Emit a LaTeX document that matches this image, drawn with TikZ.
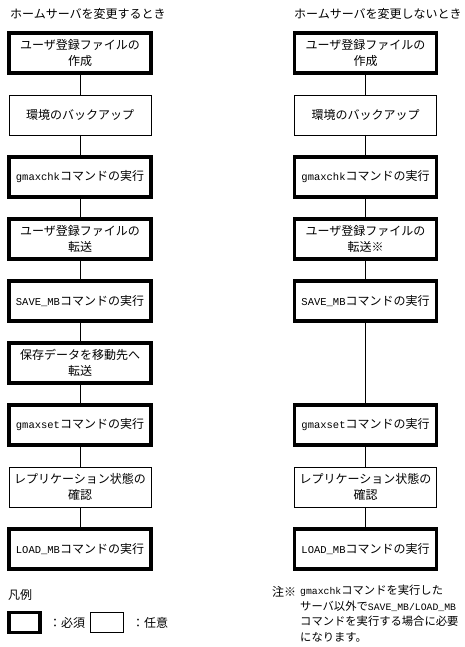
\documentclass[tikz,border=0pt]{standalone}
\usepackage{fontspec}
\setmainfont{Noto Sans CJK JP}
\setmonofont{Liberation Mono}
\usetikzlibrary{positioning}

\newcommand{\cmdname}[1]{{\ttfamily\fontsize{10.5}{15.5}\selectfont #1}}
\newcommand{\notecmd}[1]{{\ttfamily\fontsize{9.8}{15.5}\selectfont #1}}

\begin{document}
\begin{tikzpicture}[
    x=1pt, y=1pt,
    node distance=22pt,
    font=\fontsize{12}{15.5}\selectfont,
    base/.style={rectangle, draw, outer sep=0pt, inner sep=2pt, minimum width=142pt, minimum height=40pt, align=center},
    req/.style={base, line width=3.5pt},
    opt/.style={base, line width=0.8pt},
    link/.style={line width=0.8pt},
    title/.style={anchor=west, inner sep=0pt}
]
    \useasboundingbox (0,0) rectangle (465,-647);

    % Titles
    \node[title] (tleft) at (10,-14) {ホームサーバを変更するとき};
    \node[title] (tright) at (294,-14) {ホームサーバを変更しないとき};

    % Left column
    \node[req] (a1) at (80,-53) {ユーザ登録ファイルの\\作成};
    \node[opt, below=of a1] (a2) {環境のバックアップ};
    \node[req, below=of a2] (a3) {\cmdname{gmaxchk}コマンドの実行};
    \node[req, below=of a3] (a4) {ユーザ登録ファイルの\\転送};
    \node[req, below=of a4] (a5) {\cmdname{SAVE\_MB}コマンドの実行};
    \node[req, below=of a5] (a6) {保存データを移動先へ\\転送};
    \node[req, below=of a6] (a7) {\cmdname{gmaxset}コマンドの実行};
    \node[opt, below=of a7] (a8) {レプリケーション状態の\\確認};
    \node[req, below=of a8] (a9) {\cmdname{LOAD\_MB}コマンドの実行};

    % Right column
    \node[req] (r1) at (365.5,-53) {ユーザ登録ファイルの\\作成};
    \node[opt, below=of r1] (r2) {環境のバックアップ};
    \node[req, below=of r2] (r3) {\cmdname{gmaxchk}コマンドの実行};
    \node[req, below=of r3] (r4) {ユーザ登録ファイルの\\転送※};
    \node[req, below=of r4] (r5) {\cmdname{SAVE\_MB}コマンドの実行};
    \node[req, below=84pt of r5] (r7) {\cmdname{gmaxset}コマンドの実行};
    \node[opt, below=of r7] (r8) {レプリケーション状態の\\確認};
    \node[req, below=of r8] (r9) {\cmdname{LOAD\_MB}コマンドの実行};

    % Links
    \draw[link] (a1) -- (a2);
    \draw[link] (a2) -- (a3);
    \draw[link] (a3) -- (a4);
    \draw[link] (a4) -- (a5);
    \draw[link] (a5) -- (a6);
    \draw[link] (a6) -- (a7);
    \draw[link] (a7) -- (a8);
    \draw[link] (a8) -- (a9);
    \draw[link] (r1) -- (r2);
    \draw[link] (r2) -- (r3);
    \draw[link] (r3) -- (r4);
    \draw[link] (r4) -- (r5);
    \draw[link] (r5) -- (r7);
    \draw[link] (r7) -- (r8);
    \draw[link] (r8) -- (r9);

    % Legend
    \node[title] (legend) at (8,-595) {凡例};
    \node[req, minimum width=31pt, minimum height=20pt] (keyreq) at (24.5,-622.5) {};
    \node[anchor=west, inner sep=0pt] (keyreqtxt) at (49,-622.5) {：必須};
    \node[opt, minimum width=33pt, minimum height=20pt] (keyopt) at (106.5,-622) {};
    \node[anchor=west, inner sep=0pt] (keyopttxt) at (132,-622.5) {：任意};

    % Note
    \node[title] (notemark) at (272,-592) {注※};
    \node[anchor=north west, inner sep=0pt, align=left, font=\fontsize{11.3}{15.5}\selectfont] (notetext) at (300,-585) {\notecmd{gmaxchk}コマンドを実行した\\サーバ以外で\notecmd{SAVE\_MB/LOAD\_MB}\\コマンドを実行する場合に必要\\になります。};
\end{tikzpicture}
\end{document}
